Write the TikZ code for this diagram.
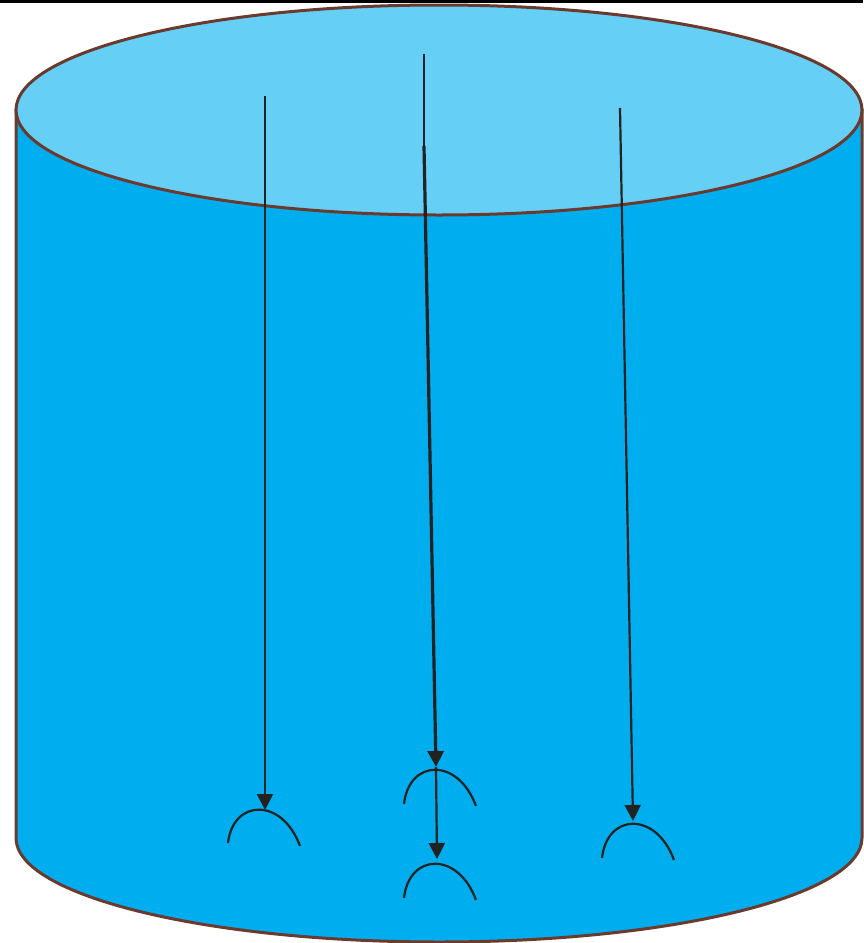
\documentclass[tikz,border=0pt]{standalone}
\usetikzlibrary{arrows.meta}
\definecolor{rimc}{HTML}{6B3A2E}
\definecolor{topc}{HTML}{66CFF6}
\definecolor{bodyc}{HTML}{00AEEF}
\definecolor{arrc}{HTML}{222222}
\begin{document}
\begin{tikzpicture}[x=1pt,y=-1pt,
  rim/.style={draw=rimc,line width=3pt},
  ray/.style={draw=arrc,line width=2.2pt,-{Triangle[width=16pt,length=16pt]}},
  boldray/.style={draw=arrc,line width=3.2pt,-{Triangle[width=16pt,length=16pt]}},
  thinray/.style={draw=arrc,line width=2pt},
  lens/.style={draw=arrc,line width=2.2pt}]
\useasboundingbox (0,0) rectangle (863,943);
\fill[black] (0,0) rectangle (863,3);
% body
\path[rim,fill=bodyc] (16,110) -- (16,838) arc[start angle=180,end angle=0,x radius=423,y radius=104] -- (862,110) -- cycle;
% top
\path[rim,fill=topc] (439,110) ellipse[x radius=423,y radius=105];
% ray coordinates
\coordinate (a1) at (265,96);
\coordinate (a2) at (265,810);
\coordinate (b0) at (424,54);
\coordinate (b1) at (424,146);
\coordinate (b2) at (436,767);
\coordinate (b3) at (437,859);
\coordinate (c1) at (620,108);
\coordinate (c2) at (633,821);
% rays
\draw[thinray] (b0) -- (b1);
\draw[ray] (a1) -- (a2);
\draw[boldray] (b1) -- (b2);
\draw[ray] (b2) -- (b3);
\draw[ray] (c1) -- (c2);
% curved surfaces
\draw[lens] (228,843) .. controls (233,799) and (282,797) .. (300,846);
\draw[lens] (404,804) .. controls (409,759) and (458,757) .. (476,806);
\draw[lens] (404,898) .. controls (409,853) and (458,851) .. (476,900);
\draw[lens] (602,858) .. controls (607,813) and (656,811) .. (674,860);
\end{tikzpicture}
\end{document}
